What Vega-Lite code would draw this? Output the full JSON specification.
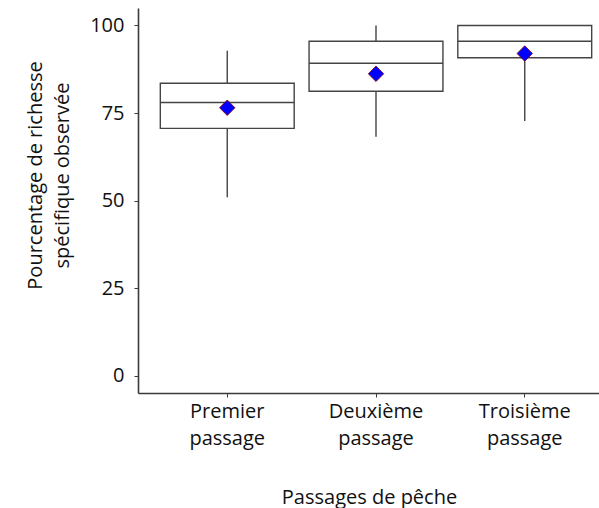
{
  "$schema": "https://vega.github.io/schema/vega-lite/v6.json",
  "autosize": {"type": "none"},
  "padding": {"left": 138, "top": 8, "right": 0, "bottom": 115},
  "width": 476,
  "height": 385,
  "background": "white",
  "config": {
    "view": {"stroke": null},
    "font": "Open Sans",
    "axis": {"grid": false, "domainColor": "#3a3a3a", "domainWidth": 1.6, "tickColor": "#3a3a3a", "tickSize": 4, "tickWidth": 1, "labelColor": "#111", "titleColor": "#111", "labelFontSize": 20, "titleFontSize": 20, "titleFontWeight": "normal", "labelFont": "Open Sans", "titleFont": "Open Sans"}
  },
  "data": {"values": [
    {"passage": "Premier passage", "low": 50.9, "q1": 70.6, "median": 78.0, "q3": 83.5, "high": 92.8, "mean": 76.5},
    {"passage": "Deuxième passage", "low": 68.2, "q1": 81.2, "median": 89.2, "q3": 95.5, "high": 100, "mean": 86.2},
    {"passage": "Troisième passage", "low": 72.7, "q1": 90.8, "median": 95.5, "q3": 100, "high": 100, "mean": 92.0}
  ]},
  "encoding": {
    "x": {"field": "passage", "type": "nominal", "sort": null,
      "scale": {"paddingInner": 0, "paddingOuter": 0.1},
      "axis": {"title": "Passages de pêche", "labelAngle": 0, "labelExpr": "split(datum.label, ' ')", "labelLineHeight": 27, "labelPadding": 4, "titleX": 231, "titleY": 104, "titleBaseline": "middle", "titleAnchor": "start", "titleAlign": "center"}}
  },
  "layer": [
    {"mark": {"type": "rule", "color": "#444", "strokeWidth": 1.4},
     "encoding": {"y": {"field": "low", "type": "quantitative", "scale": {"domain": [-5, 105], "nice": false, "zero": false},
        "axis": {"title": ["Pourcentage de richesse", "spécifique observée"], "values": [0, 25, 50, 75, 100], "labelPadding": 10, "titleLineHeight": 27, "titleX": -103, "titleY": 167, "titleAlign": "center", "titleBaseline": "middle", "titleAngle": -90}},
       "y2": {"field": "high"}}},
    {"mark": {"type": "bar", "fill": "white", "stroke": "#444", "strokeWidth": 1.4, "width": {"band": 0.9}},
     "encoding": {"y": {"field": "q1", "type": "quantitative"}, "y2": {"field": "q3"}}},
    {"mark": {"type": "tick", "color": "#444", "opacity": 1, "thickness": 1.4, "size": 134},
     "encoding": {"y": {"field": "median", "type": "quantitative"}}},
    {"mark": {"type": "point", "shape": "diamond", "filled": true, "fill": "#0000ff", "stroke": "#8b0000", "strokeWidth": 0.8, "size": 240, "opacity": 1},
     "encoding": {"y": {"field": "mean", "type": "quantitative"}}}
  ]
}
